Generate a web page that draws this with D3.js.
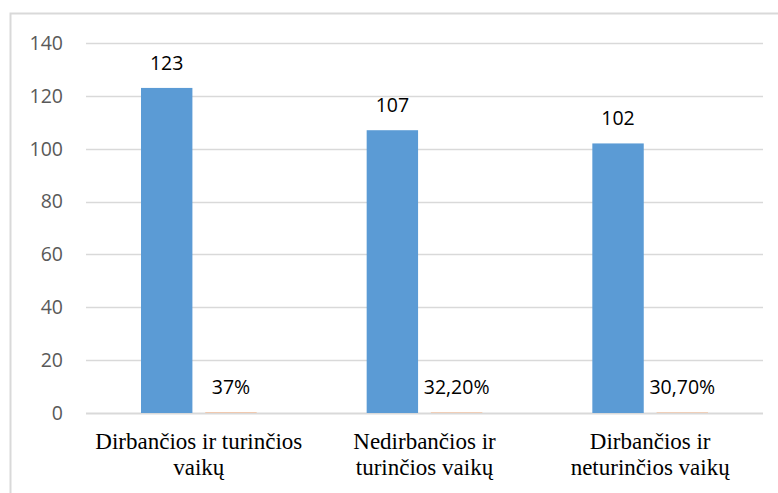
<!DOCTYPE html>
<html>
<head>
<meta charset="utf-8">
<script src="https://cdn.jsdelivr.net/npm/d3@7"></script>
<style>
  body { margin: 0; background: #fff; }
  svg { display: block; }
</style>
</head>
<body>
<svg id="chart" width="778" height="493"></svg>
<script>
// Chart data
var categories = [
  ["Dirbančios ir turinčios", "vaikų"],
  ["Nedirbančios ir", "turinčios vaikų"],
  ["Dirbančios ir", "neturinčios vaikų"]
];
var counts = [123, 107, 102];
var shares = [0.37, 0.322, 0.307];
var shareLabels = ["37%", "32,20%", "30,70%"];
var yTicks = [0, 20, 40, 60, 80, 100, 120, 140];

var margin = { top: 43, right: 15, bottom: 80, left: 86 };
var width = 763 - margin.left;
var height = 413 - margin.top;

var svg = d3.select("#chart");

// outer frame (only top and left edges visible)
svg.append("path")
  .attr("d", "M10.5,493 V13.5 H778")
  .attr("fill", "none")
  .attr("stroke", "#d9d9d9")
  .attr("stroke-width", 2);

var g = svg.append("g")
  .attr("transform", "translate(" + margin.left + "," + margin.top + ")");

var x0 = d3.scaleBand()
  .domain(d3.range(categories.length))
  .range([0, width]);

var x1 = d3.scaleBand()
  .domain(["a", "b"])
  .range([55, x0.bandwidth() - 55])
  .paddingInner(0.2);

var y = d3.scaleLinear()
  .domain([0, 140])
  .range([height, 0]);

// gridlines
g.selectAll(".grid")
  .data(yTicks)
  .enter()
  .append("line")
  .attr("x1", 0)
  .attr("x2", width)
  .attr("y1", function(d) { return Math.round(y(d)) + 0.5; })
  .attr("y2", function(d) { return Math.round(y(d)) + 0.5; })
  .attr("stroke", "#d9d9d9")
  .attr("stroke-width", function(d) { return d === 0 ? 2 : 1.5; });

// y tick labels
g.selectAll(".ytick")
  .data(yTicks)
  .enter()
  .append("text")
  .attr("x", -23)
  .attr("y", function(d) { return y(d); })
  .attr("dy", "0.35em")
  .attr("text-anchor", "end")
  .attr("fill", "#595959")
  .style("font-family", "'Open Sans', 'Liberation Sans', sans-serif")
  .style("font-size", "19.5px")
  .text(function(d) { return d; });

var groups = g.selectAll(".cat")
  .data(categories)
  .enter()
  .append("g")
  .attr("transform", function(d, i) { return "translate(" + x0(i) + ",0)"; });

// blue bars
groups.append("rect")
  .attr("x", x1("a"))
  .attr("y", function(d, i) { return y(counts[i]); })
  .attr("width", x1.bandwidth())
  .attr("height", function(d, i) { return height - y(counts[i]); })
  .attr("fill", "#5b9bd5");

// orange bars (tiny)
groups.append("rect")
  .attr("x", x1("b"))
  .attr("y", function(d, i) { return y(shares[i]); })
  .attr("width", x1.bandwidth())
  .attr("height", function(d, i) { return height - y(shares[i]); })
  .attr("fill", "#f4b183")
  .attr("opacity", 0.6);

var labelFont = "'Open Sans', 'Liberation Sans', sans-serif";

groups.append("text")
  .attr("x", x1("a") + x1.bandwidth() / 2)
  .attr("y", function(d, i) { return y(counts[i]) - 25; })
  .attr("dy", "0.35em")
  .attr("text-anchor", "middle")
  .style("font-family", labelFont)
  .style("font-size", "19.5px")
  .attr("fill", "#000")
  .text(function(d, i) { return counts[i]; });

groups.append("text")
  .attr("x", x1("b") + x1.bandwidth() / 2)
  .attr("y", function(d, i) { return y(shares[i]) - 25; })
  .attr("dy", "0.35em")
  .attr("text-anchor", "middle")
  .style("font-family", labelFont)
  .style("font-size", "19.5px")
  .attr("fill", "#000")
  .text(function(d, i) { return shareLabels[i]; });

// category labels
var cat = groups.append("text")
  .attr("text-anchor", "middle")
  .style("font-family", "'Liberation Serif', 'Times New Roman', serif")
  .style("font-size", "23px")
  .attr("fill", "#000");

cat.selectAll("tspan")
  .data(function(d) { return d; })
  .enter()
  .append("tspan")
  .attr("x", x0.bandwidth() / 2)
  .attr("y", function(d, j) { return height + 36 + j * 26; })
  .text(function(d) { return d; });
</script>
</body>
</html>
